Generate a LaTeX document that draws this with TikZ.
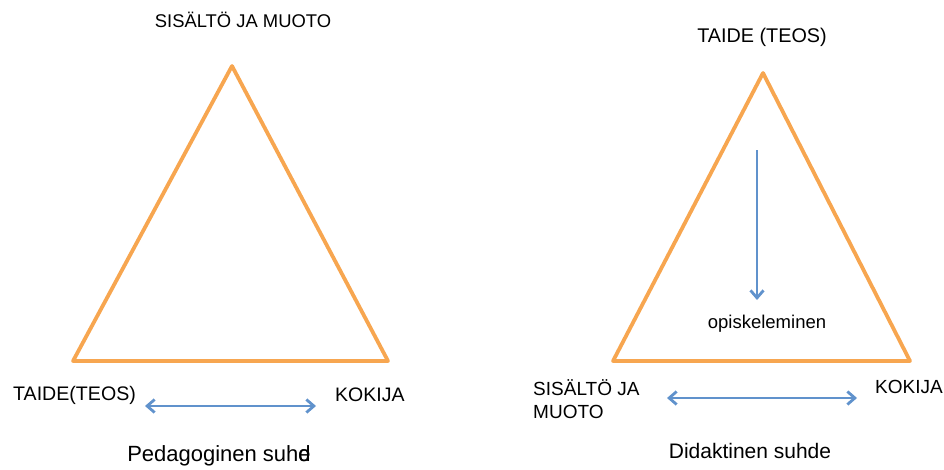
\documentclass[tikz,border=0pt]{standalone}
\usepackage{fontspec}
\setmainfont{Liberation Sans}
\usetikzlibrary{arrows.meta}
\definecolor{tri}{RGB}{247,166,80}
\definecolor{arr}{RGB}{96,146,204}
\begin{document}
\begin{tikzpicture}[x=1pt,y=-1pt,
  triline/.style={draw=tri,line width=3.8pt,line join=round},
  arrline/.style={draw=arr,line width=2.8pt,-{Straight Barb[length=7.5pt,width=13pt,line width=2.8pt]}},
  darrline/.style={draw=arr,line width=2.8pt,{Straight Barb[length=7.5pt,width=13pt,line width=2.8pt]}-{Straight Barb[length=7.5pt,width=13pt,line width=2.8pt]}},
  lab/.style={inner sep=0pt,font=\fontsize{19}{22}\selectfont},
  big/.style={inner sep=0pt,font=\fontsize{21.5}{24}\selectfont}]
\useasboundingbox (0,0) rectangle (944,469);
% left triangle
\coordinate (a1) at (232,66);
\coordinate (b1) at (73,361);
\coordinate (c1) at (388,361);
\draw[triline] (a1) -- (b1) -- (c1) -- cycle;
\node[lab,font=\fontsize{18.4}{22}\selectfont] (t1) at (243,20) {SISÄLTÖ JA MUOTO};
\node[lab,anchor=west,font=\fontsize{19.6}{22}\selectfont] (l1) at (13,395) {TAIDE(TEOS)};
\node[lab,anchor=west,font=\fontsize{19.5}{22}\selectfont] (r1) at (335,395) {KOKIJA};
\coordinate (p1) at (145,406);
\coordinate (q1) at (316,406);
\draw[darrline] (p1) -- (q1);
\node[big,font=\fontsize{22}{24}\selectfont] (s1) at (219,456) {Pedagoginen suh\rlap{d}e};
% right triangle
\coordinate (a2) at (763,73);
\coordinate (b2) at (613,361);
\coordinate (c2) at (910,361);
\draw[triline] (a2) -- (b2) -- (c2) -- cycle;
\node[lab,font=\fontsize{19.8}{22}\selectfont] (t2) at (762,37) {TAIDE (TEOS)};
\node[lab,anchor=north west,align=left,font=\fontsize{19}{23}\selectfont] (l2) at (533,379) {SISÄLTÖ JA\\MUOTO};
\node[lab,anchor=west] (r2) at (875,387) {KOKIJA};
\coordinate (p2) at (667,398);
\coordinate (q2) at (857,398);
\draw[darrline] (p2) -- (q2);
\node[big,font=\fontsize{21}{24}\selectfont] (s2) at (750,451) {Didaktinen suhde};
\coordinate (d1) at (757,150);
\coordinate (d2) at (757,300);
\draw[arrline] (d1) -- (d2);
\node[lab,font=\fontsize{18.5}{21}\selectfont] (o2) at (767,324) {opiskeleminen};
\end{tikzpicture}
\end{document}
